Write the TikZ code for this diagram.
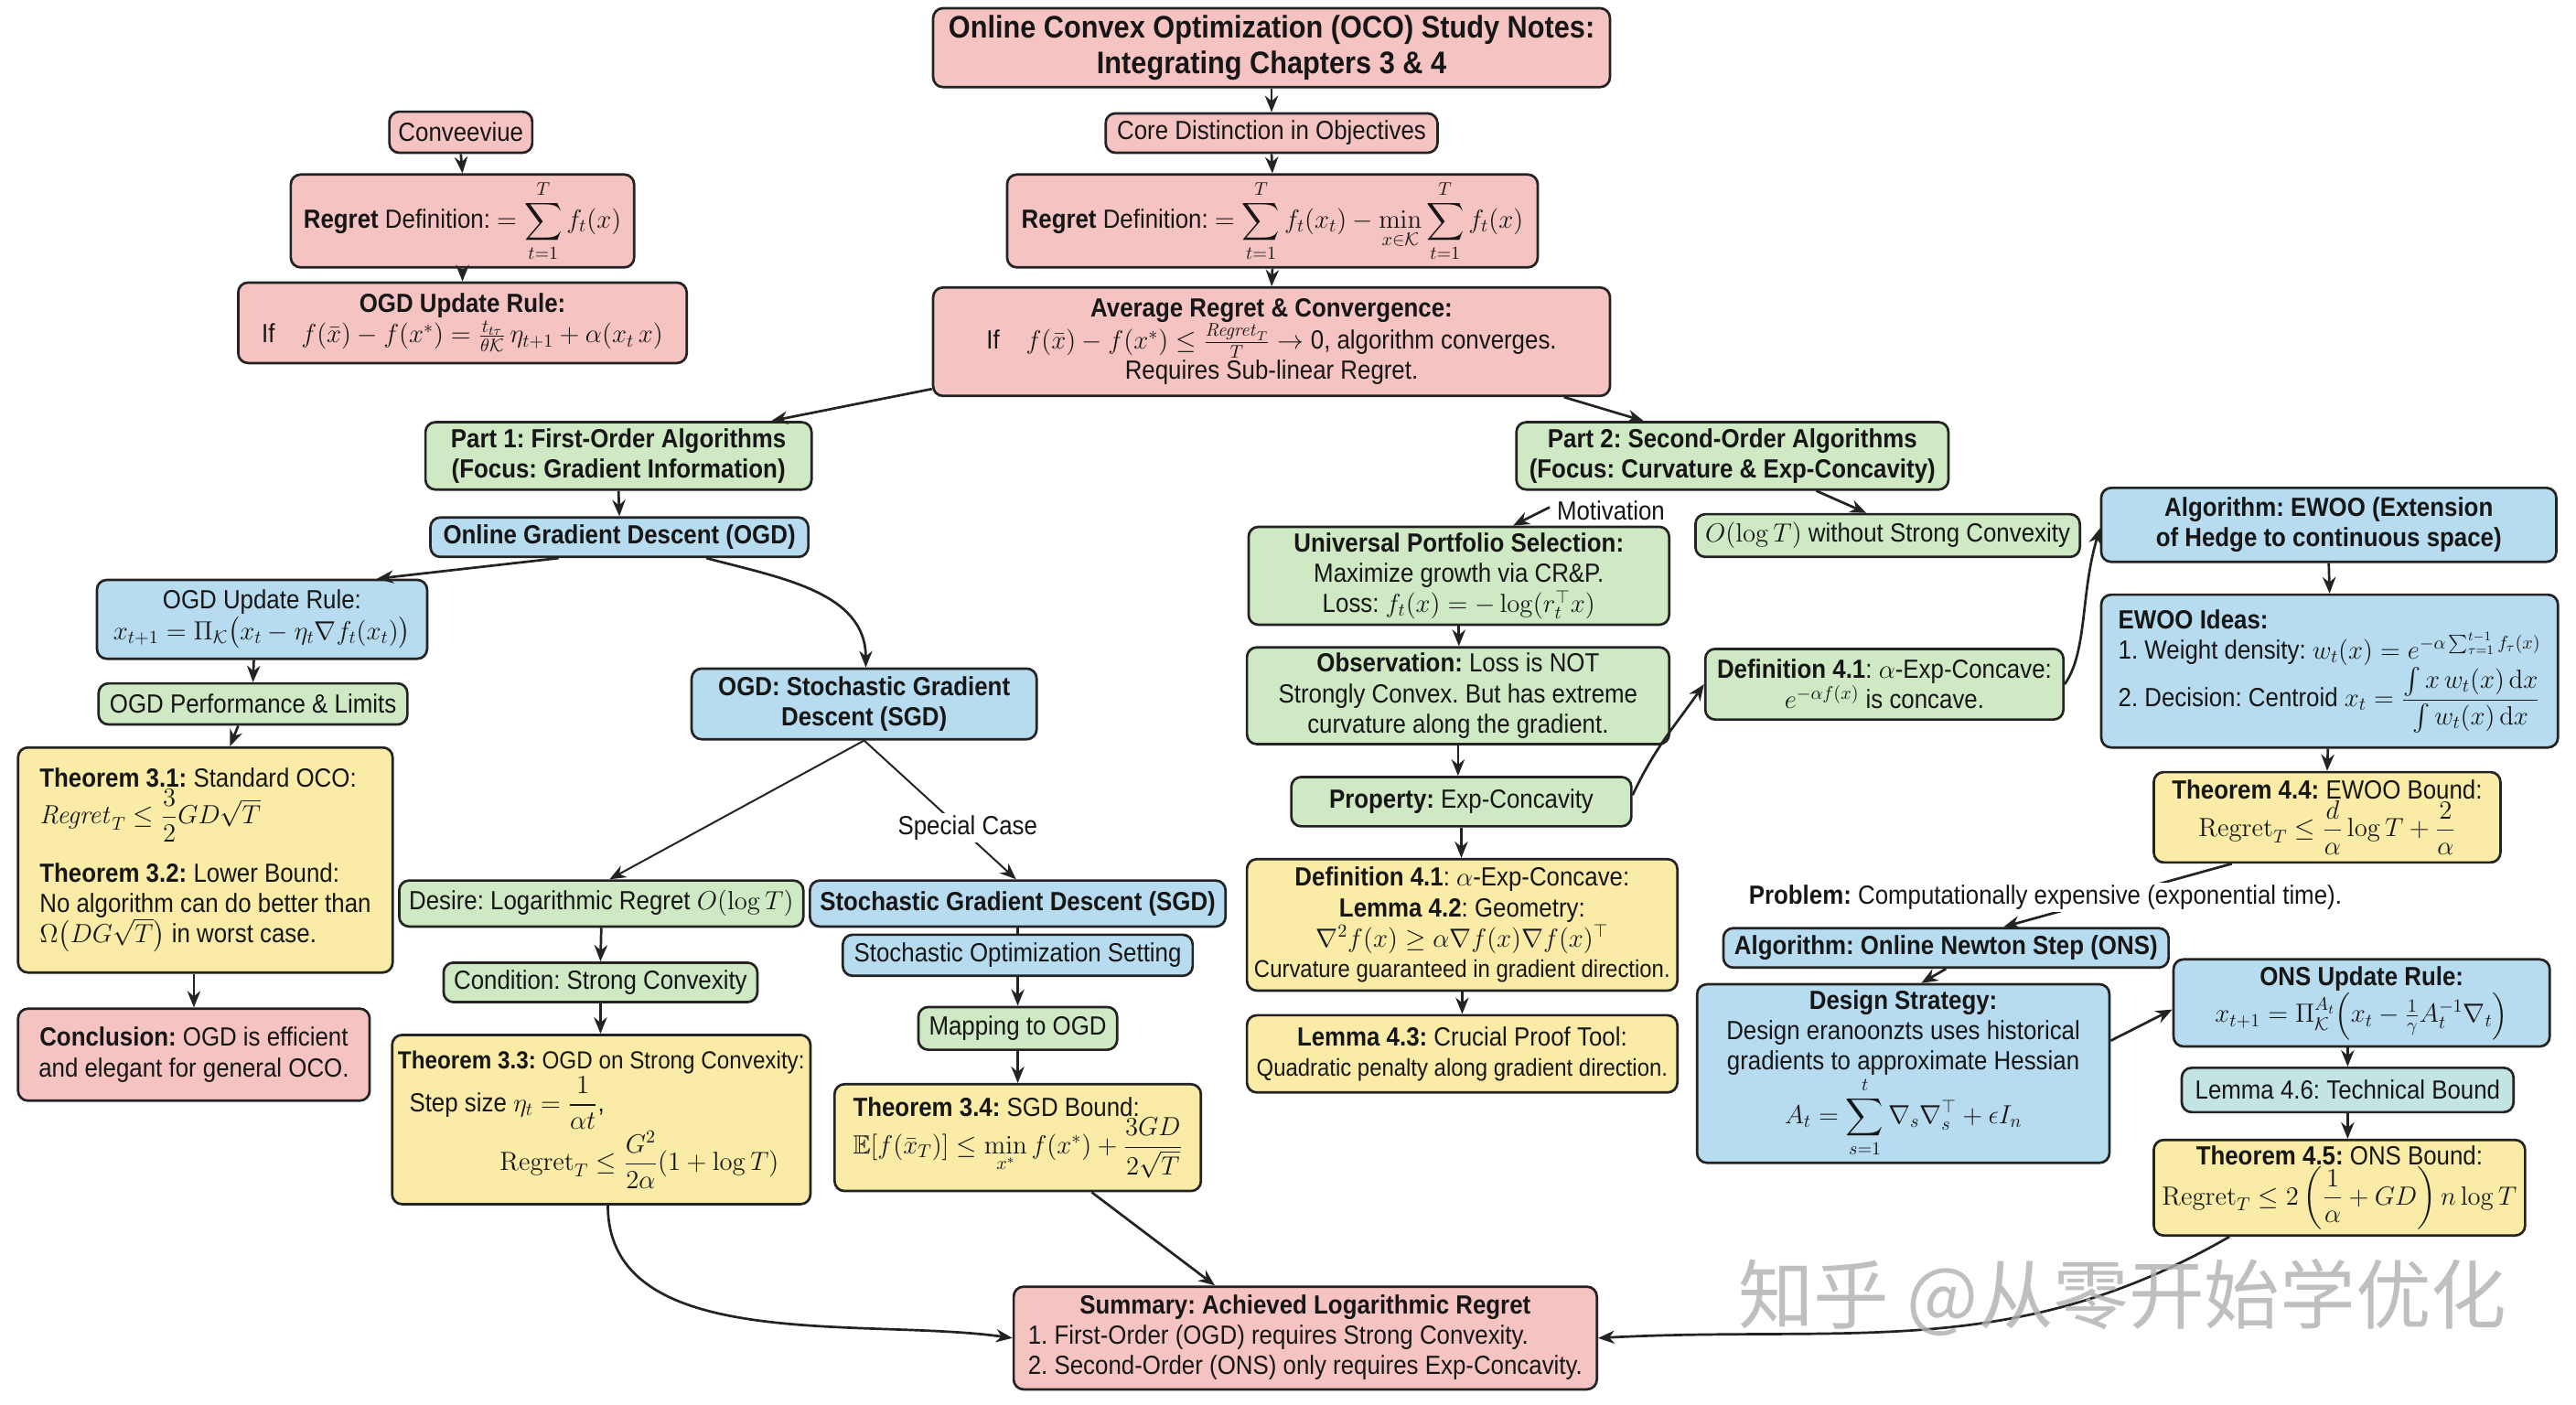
\RequirePackage{fix-cm}
\documentclass[tikz,border=0pt]{standalone}
\usepackage{amsmath,amssymb}
\usepackage[no-math]{fontspec}
\setmainfont{Liberation Sans}[FakeStretch=0.9]
\newfontfamily\wmfont{Noto Sans CJK SC}
\usetikzlibrary{arrows.meta,calc}
\frenchspacing
\definecolor{pinkF}{RGB}{245,196,194}
\definecolor{greenF}{RGB}{208,233,197}
\definecolor{blueF}{RGB}{184,220,239}
\definecolor{yellowF}{RGB}{250,236,166}
\definecolor{tealF}{RGB}{196,228,228}
\definecolor{edgeC}{RGB}{35,35,35}
\definecolor{txtC}{RGB}{22,22,22}
\definecolor{wmC}{RGB}{175,175,175}
\newcommand{\fsBody}{\fontsize{16}{18.5}\selectfont}
\newcommand{\fsSmall}{\fontsize{14.8}{16.5}\selectfont}
\newcommand{\fsTitle}{\fontsize{19}{22}\selectfont}
\tikzset{
  box/.style={draw=edgeC, line width=1.5pt, rounded corners=6pt, inner sep=3.5pt, align=center, text=txtC, font=\fsBody},
  pinkbox/.style={box, fill=pinkF},
  greenbox/.style={box, fill=greenF},
  bluebox/.style={box, fill=blueF},
  yellowbox/.style={box, fill=yellowF},
  tealbox/.style={box, fill=tealF},
  arr/.style={draw=edgeC, line width=1.5pt, -{Stealth[length=10pt,width=8pt]}},
  thinarr/.style={draw=edgeC, line width=1.1pt, -{Stealth[length=10pt,width=8pt]}},
  plainline/.style={draw=edgeC, line width=1.5pt},
  lbl/.style={font=\fsBody, text=txtC, inner sep=1.5pt},
}
\begin{document}
\begin{tikzpicture}[x=1pt,y=1pt]
\fill[white] (0,0) rectangle (1568,-855);
\useasboundingbox (0,0) rectangle (1568,-855);

% ---------- top column ----------
\node[pinkbox, font=\fsTitle\bfseries, minimum width=412pt, minimum height=48pt] (title) at (774,-29) {Online Convex Optimization (OCO) Study Notes:\\Integrating Chapters 3 \& 4};
\node[pinkbox, minimum width=202pt, minimum height=24pt] (core) at (774,-81) {Core Distinction in Objectives};
\node[pinkbox, minimum width=323pt, minimum height=49pt] (regC) at (774.5,-134.5) {\textbf{Regret} Definition: $=\displaystyle\sum_{t=1}^{T} f_t(x_t)-\min_{x\in\mathcal{K}}\sum_{t=1}^{T} f_t(x)$};
\node[pinkbox, minimum width=412pt, minimum height=66pt] (avg) at (774,-208) {\textbf{Average Regret \& Convergence:}\\ If\quad $f(\bar{x})-f(x^*)\le\frac{\mathit{Regret}_T}{T}\to{}$0, algorithm converges.\\ Requires Sub-linear Regret.};

% ---------- top left column ----------
\node[pinkbox, minimum width=87pt, minimum height=25pt] (conv) at (280.5,-80.5) {Conveeviue};
\node[pinkbox, minimum width=209pt, minimum height=49pt] (regL) at (281.5,-134.5) {\textbf{Regret} Definition: $=\displaystyle\sum_{t=1}^{T} f_t(x)$};
\node[pinkbox, minimum width=273pt, minimum height=49pt] (ogdP) at (281.5,-196.5) {\textbf{OGD Update Rule:}\\ If\quad $f(\bar{x})-f(x^*)=\frac{t_{t\tau}}{\theta\mathcal{K}}\,\eta_{t+1}+\alpha(x_t\,x)$};

% ---------- Part 1 ----------
\node[greenbox, font=\fsBody\bfseries, minimum width=235pt, minimum height=41pt] (part1) at (376.5,-277.5) {Part 1: First-Order Algorithms\\(Focus: Gradient Information)};
\node[bluebox, font=\fsBody\bfseries, minimum width=230pt, minimum height=24pt] (ogd) at (377,-327) {Online Gradient Descent (OGD)};
\node[bluebox, minimum width=201pt, minimum height=48pt] (ogdU) at (159.5,-377) {OGD Update Rule:\\ $x_{t+1}=\Pi_{\mathcal{K}}\big(x_t-\eta_t\nabla f_t(x_t)\big)$};
\node[greenbox, minimum width=188pt, minimum height=25pt] (perf) at (154,-428.5) {OGD Performance \& Limits};
\node[yellowbox, align=left, minimum width=228pt, minimum height=137pt] (th31) at (125,-523.5) {\textbf{Theorem 3.1:} Standard OCO:\\ $\mathit{Regret}_T\le\dfrac{3}{2}GD\sqrt{T}$\\[12pt] \textbf{Theorem 3.2:} Lower Bound:\\ No algorithm can do better than\\ $\Omega\big(DG\sqrt{T}\big)$ in worst case.};
\node[pinkbox, minimum width=214pt, minimum height=56pt] (concl) at (118,-642) {\textbf{Conclusion:} OGD is efficient\\ and elegant for general OCO.};
\node[bluebox, font=\fsBody\bfseries, minimum width=210pt, minimum height=43pt] (sgdA) at (526,-428.5) {OGD: Stochastic Gradient\\ Descent (SGD)};
\node[greenbox, minimum width=246pt, minimum height=28pt] (desire) at (366,-550) {Desire: Logarithmic Regret $O(\log T)$};
\node[bluebox, font=\fsBody\bfseries, minimum width=253pt, minimum height=28pt] (sgdB) at (619.5,-550) {Stochastic Gradient Descent (SGD)};
\node[bluebox, minimum width=213pt, minimum height=25pt] (stoch) at (619.5,-581.5) {Stochastic Optimization Setting};
\node[greenbox, minimum width=191pt, minimum height=24pt] (cond) at (365.5,-598) {Condition: Strong Convexity};
\node[greenbox, minimum width=121pt, minimum height=26pt] (map) at (619.5,-626) {Mapping to OGD};
\node[yellowbox, align=left, minimum width=252pt, minimum height=103pt] (th33) at (366,-681.5) {{\fontsize{15}{17}\selectfont\textbf{Theorem 3.3:} OGD on Strong Convexity:}\\[1pt] \hspace*{7pt}Step size $\eta_t=\dfrac{1}{\alpha t}$,\\ \hspace*{62pt}$\mathrm{Regret}_T\le\dfrac{G^2}{2\alpha}(1+\log T)$};
\node[yellowbox, align=left, minimum width=223pt, minimum height=65pt] (th34) at (619.5,-692.5) {\textbf{Theorem 3.4:} SGD Bound:\\ $\mathbb{E}[f(\bar{x}_T)]\le\min\limits_{x^*}f(x^*)+\dfrac{3GD}{2\sqrt{T}}$};
\node[pinkbox, minimum width=355pt, minimum height=57pt] (summ) at (794.5,-814.5) {\begin{tabular}{@{}l@{}}\multicolumn{1}{@{}c@{}}{\textbf{Summary: Achieved Logarithmic Regret}}\\ 1. First-Order (OGD) requires Strong Convexity.\\ 2. Second-Order (ONS) only requires Exp-Concavity.\end{tabular}};

% ---------- Part 2 ----------
\node[greenbox, font=\fsBody\bfseries, minimum width=263pt, minimum height=41pt] (part2) at (1054.5,-277.5) {Part 2: Second-Order Algorithms\\(Focus: Curvature \& Exp-Concavity)};
\node[greenbox, minimum width=256pt, minimum height=57pt] (univ) at (888,-350.5) {\textbf{Universal Portfolio Selection:}\\ Maximize growth via CR\&P.\\ Loss: $f_t(x)=-\log(r_t^{\top}x)$};
\node[greenbox, minimum width=234pt, minimum height=26pt] (ologt) at (1149,-326) {$O(\log T)$ without Strong Convexity};
\node[greenbox, minimum width=257pt, minimum height=57pt] (obs) at (887.5,-423.5) {\textbf{Observation:} Loss is NOT\\ Strongly Convex. But has extreme\\ curvature along the gradient.};
\node[greenbox, minimum width=218pt, minimum height=43pt] (def41g) at (1147,-416.5) {\textbf{Definition 4.1}: $\alpha$-Exp-Concave:\\ $e^{-\alpha f(x)}$ is concave.};
\node[greenbox, minimum width=207pt, minimum height=30pt] (prop) at (889.5,-488) {\textbf{Property:} Exp-Concavity};
\node[yellowbox, minimum width=262pt, minimum height=80pt] (def41y) at (890,-563) {\textbf{Definition 4.1}: $\alpha$-Exp-Concave:\\ \textbf{Lemma 4.2}: Geometry:\\ $\nabla^2 f(x)\ge\alpha\nabla f(x)\nabla f(x)^{\top}$\\ {\fsSmall Curvature guaranteed in gradient direction.}};
\node[yellowbox, minimum width=262pt, minimum height=47pt] (lem43) at (890,-641.5) {\textbf{Lemma 4.3:} Crucial Proof Tool:\\ {\fsSmall Quadratic penalty along gradient direction.}};
\node[bluebox, font=\fsBody\bfseries, minimum width=277pt, minimum height=45pt] (ewooA) at (1417.5,-319.5) {Algorithm: EWOO (Extension\\ of Hedge to continuous space)};
\node[bluebox, align=left, minimum width=278pt, minimum height=93pt] (ewooI) at (1418,-408.5) {\textbf{EWOO Ideas:}\\ 1. Weight density: $w_t(x)=e^{-\alpha\sum_{\tau=1}^{t-1}f_\tau(x)}$\\ 2. Decision: Centroid $x_t=\dfrac{\int x\,w_t(x)\,\mathrm{d}x}{\int w_t(x)\,\mathrm{d}x}$};
\node[yellowbox, minimum width=211pt, minimum height=55pt] (th44) at (1416.5,-497.5) {\textbf{Theorem 4.4:} EWOO Bound:\\ $\mathrm{Regret}_T\le\dfrac{d}{\alpha}\log T+\dfrac{2}{\alpha}$};
\node[bluebox, font=\fsBody\bfseries, minimum width=271pt, minimum height=24pt] (ons) at (1184.5,-577) {Algorithm: Online Newton Step (ONS)};
\node[bluebox, minimum width=251pt, minimum height=95pt] (design) at (1158.5,-653.5) {\textbf{Design Strategy:}\\ Design eranoonzts uses historical\\ gradients to approximate Hessian\\ $\displaystyle A_t=\sum_{s=1}^{t}\nabla_s\nabla_s^{\top}+\epsilon I_n$};
\node[bluebox, minimum width=229pt, minimum height=53pt] (onsU) at (1437.5,-610.5) {\textbf{ONS Update Rule:}\\ $x_{t+1}=\Pi_{\mathcal{K}}^{A_t}\Big(x_t-\frac{1}{\gamma}A_t^{-1}\nabla_t\Big)$};
\node[tealbox, minimum width=202pt, minimum height=27pt] (lem46) at (1429,-663.5) {Lemma 4.6: Technical Bound};
\node[yellowbox, minimum width=226pt, minimum height=58pt] (th45) at (1424,-723) {\textbf{Theorem 4.5:} ONS Bound:\\ $\mathrm{Regret}_T\le 2\left(\dfrac{1}{\alpha}+GD\right)n\log T$};

% ---------- connectors ----------
\draw[arr] (title.south) -- (core.north);
\draw[arr] (core.south) -- (regC.north);
\draw[arr] (regC.south) -- (avg.north);
\draw[arr] (conv.south) -- (regL.north);
\draw[arr] (regL.south) -- (ogdP.north);
\draw[arr] ([yshift=5pt]avg.south west) -- ([xshift=93pt]part1.north);
\draw[arr] ([xshift=178pt]avg.south) -- ([xshift=-54pt]part2.north);

\draw[arr] (part1.south) -- (ogd.north);
\draw[arr] ([xshift=-37pt]ogd.south) -- ([xshift=70pt]ogdU.north);
\draw[arr] ([xshift=53pt]ogd.south) to[out=-15,in=90] ([xshift=1pt]sgdA.north);
\draw[arr] ([xshift=-5pt]ogdU.south) -- (perf.north);
\draw[arr] ([xshift=-9pt]perf.south) -- ([xshift=15pt]th31.north);
\draw[arr] ([xshift=-7pt]th31.south) -- (concl.north);
\draw[thinarr] (sgdA.south) -- ([xshift=5pt]desire.north);
\draw[thinarr] (sgdA.south) -- ([xshift=-1pt]sgdB.north);
\node[lbl, fill=white] (spc) at (589,-504) {Special Case};
\draw[plainline] (sgdB.south) -- (stoch.north);
\draw[arr] (stoch.south) -- (map.north);
\draw[arr] (map.south) -- (th34.north);
\draw[arr] (desire.south) -- (cond.north);
\draw[arr] (cond.south) -- (cond.south |- th33.north);
\draw[arr] ([xshift=4pt]th33.south) to[out=-90,in=172,looseness=0.9] (summ.west);
\draw[arr] ([xshift=45pt]th34.south) -- ([xshift=-55pt]summ.north);

\draw[arr] ([xshift=21pt,yshift=-10pt]part2.south west) -- ([xshift=33pt]univ.north);
\node[lbl, anchor=west] (mot) at (946,-311) {Motivation};
\draw[arr] ([xshift=51pt]part2.south) -- ([xshift=-13pt]ologt.north);
\draw[arr] (univ.south) -- (univ.south |- obs.north);
\draw[arr] (obs.south) -- (obs.south |- prop.north);
\draw[arr] ([yshift=4pt]prop.east) to[out=65,in=-125] (def41g.west);
\draw[arr] (def41g.east) .. controls +(14,20) and +(-12,-40) .. ([yshift=-2pt]ewooA.west);
\draw[arr] (prop.south) -- (prop.south |- def41y.north);
\draw[arr] (def41y.south) -- (lem43.north);
\draw[arr] (ewooA.south) -- (ewooI.north);
\draw[arr] ([xshift=-1pt]ewooI.south) -- (th44.north);
\draw[arr] ([xshift=-58pt]th44.south) -- ([xshift=35pt]ons.north);
\node[lbl, fill=white] (prob) at (1245,-546) {\textbf{Problem:} Computationally expensive (exponential time).};
\draw[arr] (ons.south) -- ([xshift=11pt]design.north);
\draw[arr] ([yshift=20pt]design.east) -- ([yshift=-4pt]onsU.west);
\draw[arr] ([xshift=-8.5pt]onsU.south) -- (lem46.north);
\draw[arr] (lem46.south) -- ([xshift=5pt]th45.north);
\draw[arr] ([xshift=-67pt]th45.south) to[out=-150,in=3] (summ.east);

% ---------- watermark ----------
\node[font=\wmfont\fontsize{46}{50}\selectfont, text=wmC, opacity=0.8] (wm) at (1292,-790) {知乎 @从零开始学优化};
\end{tikzpicture}
\end{document}
